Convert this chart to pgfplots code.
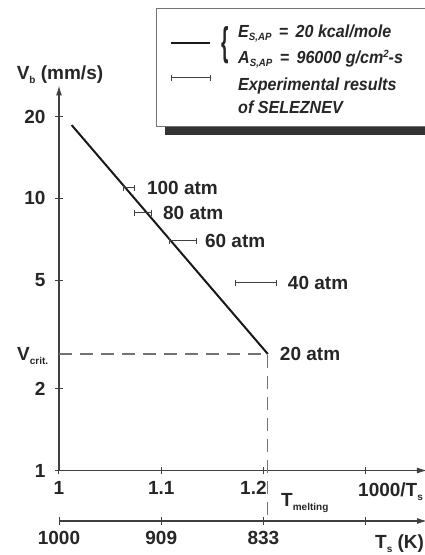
\documentclass[border=0pt]{standalone}
\usepackage{fontspec}
\setmainfont{Liberation Sans}
\newfontfamily\legfont[FakeStretch=0.92]{Liberation Sans}
\usepackage{graphicx}
\usepackage{pgfplots}
\pgfplotsset{compat=1.18}
\usetikzlibrary{arrows.meta}

% Seleznev's experiments: 1000/Ts, Vb (mm/s), half width of the bar
\pgfplotstableread{
x       y      ex
1.0684  10.93  0.0050
1.0826  8.85   0.0083
1.1212  6.98   0.0135
1.1931  4.89   0.0200
}\seleznev

\newcommand{\bigfont}{\bfseries\fontsize{19}{22}\selectfont}
\newcommand{\sub}[1]{\raisebox{-4pt}{\fontsize{10}{10}\selectfont #1}}
\newcommand{\lsub}[1]{\raisebox{-3pt}[0pt][0pt]{\fontsize{10.5}{10}\selectfont #1}}
\newcommand{\lsup}[1]{\raisebox{6pt}[0pt][0pt]{\fontsize{10.5}{10}\selectfont #1}}

\begin{document}
\begin{tikzpicture}
\useasboundingbox (0pt,0pt) rectangle (425pt,555pt);
\clip (0pt,0pt) rectangle (425pt,555pt);

\begin{axis}[
    at={(59pt,84.5pt)}, anchor=south west,
    scale only axis, width=368pt, height=385pt,
    xmin=1, xmax=1.36,
    ymode=log, ymin=1, ymax=26,
    axis x line=bottom, axis y line=left,
    axis line style={black!75, line width=1.1pt, -{Latex[length=10pt,width=6pt]}},
    tick style={black!75, line width=1pt},
    major tick length=8pt, tick align=center,
    xtick={1,1.1,1.2,1.3}, xticklabels={1,1.1,{\hspace*{-20pt}1.2},},
    ytick={1,2,5,10,20}, yticklabels={1,2,5,10,20},
    minor ytick={}, minor xtick={},
    tick label style={font=\bigfont, text=black!85},
    yticklabel style={anchor=east, xshift=-6pt},
    xticklabel style={anchor=north, yshift=-3pt},
    clip=false,
]
% critical burning rate and melting temperature
\addplot[black!55, line width=1.2pt, dash pattern=on 13pt off 8pt]
    coordinates {(1,2.68) (1.2043,2.68) (1.2043,0.652)};

% model, E = 20 kcal/mole
\addplot[black!90, line width=2pt]
    coordinates {(1.0124,18.6) (1.2043,2.68)};

% experiments
\addplot[draw=none, mark=none,
    error bars/.cd, x dir=both, x explicit, error mark=|,
    error bar style={black!75, line width=1pt},
    error mark options={black!75, line width=1pt, mark size=3pt}]
    table[x=x, y=y, x error=ex] {\seleznev};

\begin{scope}[every node/.style={anchor=west, inner sep=0pt, font=\bigfont, text=black!85}]
\node at (axis cs:1.0860,10.93) {100 atm};
\node at (axis cs:1.1017,8.85) {80 atm};
\node at (axis cs:1.1427,6.98) {60 atm};
\node at (axis cs:1.2238,4.89) {40 atm};
\node at (axis cs:1.2160,2.68) {20 atm};
\end{scope}
\end{axis}

% second scale: Ts in K
\begin{axis}[
    at={(59pt,34pt)}, anchor=south west,
    scale only axis, width=368pt, height=10pt,
    xmin=1, xmax=1.36, ymin=0, ymax=1,
    axis x line=bottom, axis y line=none,
    axis line style={black!75, line width=1.1pt, -{Latex[length=10pt,width=6pt]}},
    tick style={black!75, line width=1pt},
    major tick length=8pt, tick align=center,
    xtick={1,1.1,1.2,1.3}, xticklabels={1000,909,833,},
    minor xtick={},
    tick label style={font=\bigfont, text=black!85},
    xticklabel style={anchor=north, yshift=-3pt},
]
\end{axis}

\begin{scope}[every node/.style={inner sep=0pt, font=\bigfont, text=black!85}]
\node[anchor=base] at (60pt,475pt) {V\sub{b} (mm/s)};
\node[anchor=base west] at (17pt,194pt) {V\sub{crit.}};
\node[anchor=base west] at (281pt,48pt) {T\sub{melting}};
\node[anchor=base west] at (358pt,58pt) {1000/T\sub{s}};
\node[anchor=base west] at (375pt,6pt) {T\sub{s} (K)};
\end{scope}

% legend box with its shadow
\fill[black!80] (165pt,420pt) rectangle (445pt,440pt);
\draw[black!55, line width=0.8pt, fill=white] (156pt,547pt) rectangle (440pt,429pt);
\draw[black!90, line width=2pt] (171pt,512pt) -- (210pt,512pt);
\draw[black!75, line width=1pt] (171pt,477pt) -- (210pt,477pt)
    (171pt,474pt) -- (171pt,480pt) (210pt,474pt) -- (210pt,480pt);
\node[inner sep=0pt, text=black!85] at (225pt,509.5pt)
    {\scalebox{1}[2.1]{\bfseries\fontsize{19}{19}\selectfont\{}};
\begin{scope}[every node/.style={anchor=base west, inner sep=0pt, text=black!85,
    font=\legfont\bfseries\itshape\fontsize{17.5}{22}\selectfont}]
\node at (238pt,517pt) {E\lsub{S,AP}\, = \,20 kcal/mole};
\node at (238pt,491pt) {A\lsub{S,AP}\, = \,96000 g/cm\lsup{2}-s};
\node at (238pt,464pt) {Experimental results};
\node at (238pt,441pt) {of SELEZNEV};
\end{scope}
\end{tikzpicture}
\end{document}
